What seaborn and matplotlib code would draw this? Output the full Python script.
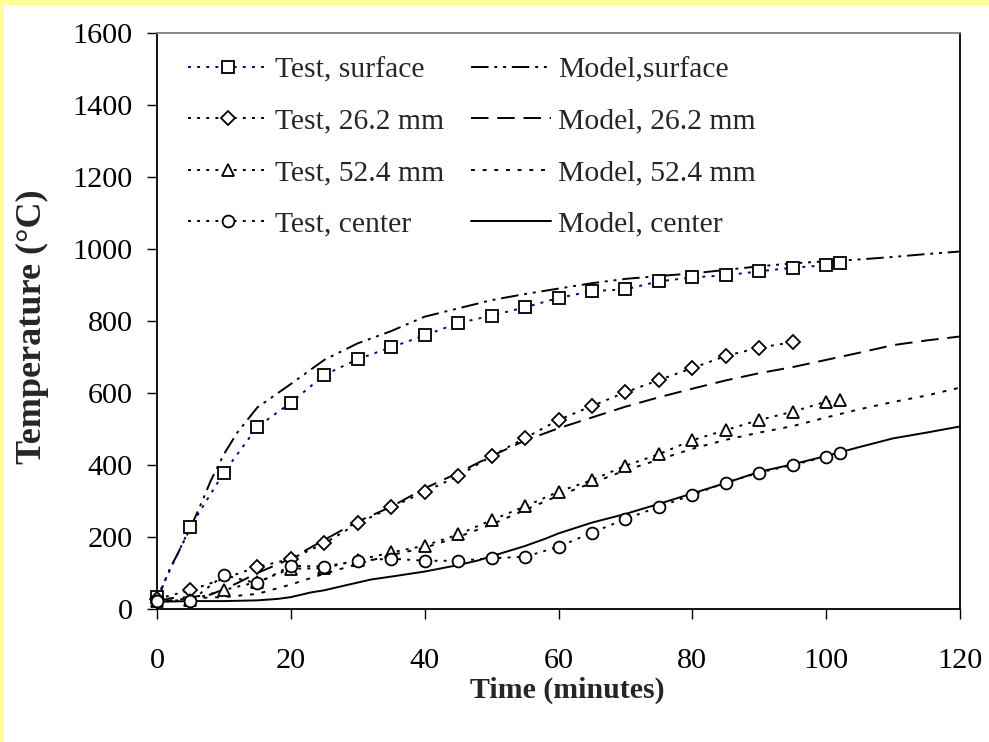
import matplotlib
matplotlib.use("Agg")
import matplotlib.pyplot as plt
from matplotlib.patches import Rectangle
import seaborn as sns
import pandas as pd

# ---------------- data ----------------
t_surface = [0, 5, 10, 15, 20, 25, 30, 35, 40, 45, 50, 55, 60, 65, 70, 75, 80, 85, 90, 95, 100, 102]
test_surface = [32, 229, 379, 506, 573, 650, 694, 727, 760, 794, 815, 838, 864, 883, 888, 910, 921, 927, 938, 948, 955, 960]

t_262 = [0, 5, 15, 20, 25, 30, 35, 40, 45, 50, 55, 60, 65, 70, 75, 80, 85, 90, 95]
test_262 = [28, 52, 117, 139, 182, 238, 282, 326, 369, 425, 475, 525, 564, 602, 636, 669, 703, 726, 741]

t_524 = [0, 5, 10, 15, 20, 25, 30, 35, 40, 45, 50, 55, 60, 65, 70, 75, 80, 85, 90, 95, 100, 102]
test_524 = [22, 25, 53, 75, 112, 113, 136, 157, 176, 207, 247, 285, 326, 358, 398, 430, 469, 497, 525, 548, 576, 580]

t_center = [0, 5, 10, 15, 20, 25, 30, 35, 40, 45, 50, 55, 60, 65, 70, 75, 80, 85, 90, 95, 100, 102]
test_center = [22, 22, 94, 71, 120, 118, 134, 140, 134, 134, 141, 145, 173, 212, 250, 284, 317, 351, 379, 400, 423, 432]

tm_surface = [0, 1, 2, 3, 5, 7, 8, 10, 12, 15, 20, 25, 30, 35, 40, 45, 50, 55, 60, 65, 70, 75, 80, 85, 90, 95, 100, 105, 110, 115, 120]
model_surface = [20, 70, 115, 150, 225, 310, 355, 430, 490, 560, 625, 692, 738, 772, 812, 835, 858, 875, 890, 905, 917, 925, 932, 942, 952, 960, 966, 971, 978, 986, 993]

tm_262 = [0, 2, 5, 8, 10, 12, 15, 20, 25, 30, 35, 40, 45, 50, 55, 60, 65, 70, 75, 80, 85, 90, 95, 100, 105, 110, 115, 120]
model_262 = [20, 30, 33, 40, 55, 72, 100, 140, 192, 243, 284, 335, 378, 425, 468, 502, 532, 562, 588, 612, 635, 655, 672, 692, 712, 733, 746, 757]

tm_524 = [0, 5, 10, 15, 20, 25, 30, 35, 40, 45, 50, 55, 60, 65, 70, 75, 80, 85, 90, 95, 100, 105, 110, 115, 120]
model_524 = [20, 30, 33, 42, 68, 98, 125, 150, 170, 200, 235, 275, 315, 350, 385, 415, 445, 470, 490, 508, 532, 555, 575, 593, 615]

tm_center = [0, 5, 10, 15, 18, 20, 23, 25, 28, 32, 35, 40, 45, 48, 52, 55, 58, 60, 65, 70, 75, 80, 85, 90, 95, 100, 105, 110, 115, 120]
model_center = [20, 22, 22, 24, 28, 33, 46, 52, 65, 82, 90, 104, 122, 135, 158, 175, 195, 210, 240, 264, 292, 321, 350, 381, 402, 425, 450, 474, 490, 507]

test_labels = ["Test, surface", "Test, 26.2 mm", "Test, 52.4 mm", "Test, center"]
model_labels = ["Model,surface", "Model, 26.2 mm", "Model, 52.4 mm", "Model, center"]

x_ticks = [0, 20, 40, 60, 80, 100, 120]
y_ticks = [0, 200, 400, 600, 800, 1000, 1200, 1400, 1600]

# ---------------- style ----------------
sns.set_style("ticks")
plt.rcParams["font.family"] = ["Liberation Serif", "DejaVu Serif"]

W, H = 989, 742
fig = plt.figure(figsize=(W / 100, H / 100), dpi=100, facecolor="white")
yellow = "#FFFF99"
fig.add_artist(Rectangle((0, 0), 4 / W, 1, transform=fig.transFigure,
                         facecolor=yellow, edgecolor="none", zorder=-5))
fig.add_artist(Rectangle((0, 1 - 5 / H), 1, 5 / H, transform=fig.transFigure,
                         facecolor=yellow, edgecolor="none", zorder=-5))
ax = fig.add_axes([157 / W, 1 - 609 / H, (960 - 157) / W, (609 - 33) / H])
ax.set_facecolor("white")

# model lines
model_sets = [
    (tm_surface, model_surface, (0, (9, 3, 1.5, 3, 1.5, 3))),
    (tm_262, model_262, (0, (9, 4.5))),
    (tm_524, model_524, (0, (2.0, 4))),
    (tm_center, model_center, "-"),
]
model_handles = []
for (tx, ty, ls), lab in zip(model_sets, model_labels):
    df = pd.DataFrame({"t": tx, "T": ty})
    sns.lineplot(data=df, x="t", y="T", ax=ax, color="black", linestyle=ls,
                 linewidth=1.4, label=lab, clip_on=False, zorder=2)
    model_handles.append(ax.get_lines()[-1])

# test series
test_sets = [
    (t_surface, test_surface, "s", "#000080", 8.0),
    (t_262, test_262, "D", "black", 7.2),
    (t_524, test_524, "^", "black", 9.0),
    (t_center, test_center, "o", "black", 8.5),
]
test_handles = []
for (tx, ty, mk, col, ms), lab in zip(test_sets, test_labels):
    df = pd.DataFrame({"t": tx, "T": ty})
    sns.lineplot(data=df, x="t", y="T", ax=ax, color=col, linestyle=(0, (1.5, 3.2)),
                 linewidth=1.4, marker=mk, markersize=ms, markerfacecolor="white",
                 markeredgecolor="black", markeredgewidth=1.3, label=lab,
                 clip_on=False, zorder=3)
    test_handles.append(ax.get_lines()[-1])

ax.set_xlim(0, 120)
ax.set_ylim(0, 1600)
ax.set_xticks(x_ticks)
ax.set_yticks(y_ticks)
ax.tick_params(axis="both", direction="out", length=7.2, width=1.0, colors="black",
               labelsize=21.8)
ax.tick_params(axis="x", pad=21)
ax.tick_params(axis="y", pad=10.5)

for side in ["left", "bottom", "right", "top"]:
    ax.spines[side].set_visible(True)
    ax.spines[side].set_linewidth(1.3)
    ax.spines[side].set_color("black")
ax.spines["top"].set_color("#808080")

ax.set_xlabel("Time (minutes)", fontsize=21.5, fontweight="bold")
ax.set_ylabel("Temperature (°C)", fontsize=26, fontweight="bold")
ax.xaxis.label.set_va("center")
ax.yaxis.label.set_va("center")
ax.xaxis.set_label_coords((567 - 157) / 803, (609 - 690) / 576)
ax.yaxis.set_label_coords((32 - 157) / 803, (609 - 327) / 576)

leg = ax.legend(test_handles + model_handles, test_labels + model_labels,
                ncol=2, loc="upper left", bbox_to_anchor=(0.0386, 0.9596),
                frameon=False, fontsize=21.3, borderpad=0, borderaxespad=0,
                handlelength=2.7, handletextpad=0.25, columnspacing=0.89,
                labelspacing=0.84, numpoints=1)

fig.savefig("out.png", dpi=100, facecolor=fig.get_facecolor())
